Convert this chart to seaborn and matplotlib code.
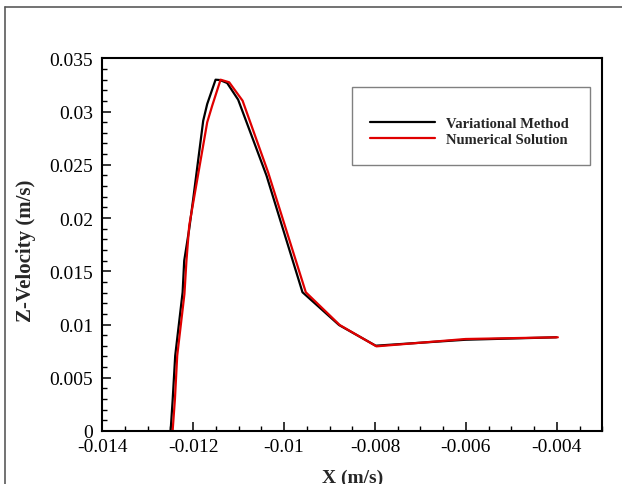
import matplotlib
matplotlib.use("Agg")
import matplotlib.pyplot as plt
from matplotlib.lines import Line2D
from matplotlib.ticker import MultipleLocator
import numpy as np
import pandas as pd
import seaborn as sns

# ---- data ----
var_x = [-0.012497, -0.012453, -0.012396, -0.012233, -0.012198, -0.012088, -0.012000,
         -0.011780, -0.011692, -0.011508, -0.011413, -0.011253, -0.011011, -0.010387,
         -0.009596, -0.008791, -0.007985, -0.006007, -0.004013]
var_y = [0.0000, 0.00285, 0.00707, 0.01303, 0.01599, 0.01897, 0.02179,
         0.02914, 0.03071, 0.03299, 0.03296, 0.03268, 0.03111, 0.02398,
         0.01303, 0.00995, 0.00801, 0.00857, 0.00880]

num_x = [-0.012453, -0.012402, -0.012352, -0.012193, -0.012149, -0.012088,
         -0.011692, -0.011582, -0.011398, -0.011209, -0.010914, -0.010352,
         -0.009523, -0.008776, -0.007969, -0.006007, -0.003978]
num_y = [0.0000, 0.00301, 0.00707, 0.01287, 0.01597, 0.01928,
         0.02899, 0.03055, 0.03299, 0.03275, 0.03102, 0.02429,
         0.01303, 0.00995, 0.00795, 0.00864, 0.00880]

series_names = ["Variational Method", "Numerical Solution"]
series_colors = ["#000000", "#e00000"]

x_ticks = [-0.014, -0.012, -0.010, -0.008, -0.006, -0.004]
x_tick_labels = ["-0.014", "-0.012", "-0.01", "-0.008", "-0.006", "-0.004"]
y_ticks = [0.0, 0.005, 0.010, 0.015, 0.020, 0.025, 0.030, 0.035]
y_tick_labels = ["0", "0.005", "0.01", "0.015", "0.02", "0.025", "0.03", "0.035"]

x_label = "X (m/s)"
y_label = "Z-Velocity (m/s)"

# ---- build table ----
df = pd.concat([
    pd.DataFrame({"x": var_x, "y": var_y, "series": series_names[0]}),
    pd.DataFrame({"x": num_x, "y": num_y, "series": series_names[1]}),
], ignore_index=True)

sns.set_theme(style="ticks")
plt.rcParams["font.family"] = ["Liberation Serif", "DejaVu Serif"]

W, H = 622, 485
fig = plt.figure(figsize=(W / 100, H / 100), dpi=100)
L, R, T, B = 102.3, 602.3, 59.3, 432.0
ax = fig.add_axes([L / W, 1 - B / H, (R - L) / W, (B - T) / H])

sns.lineplot(data=df, x="x", y="y", hue="series", hue_order=series_names,
             palette=dict(zip(series_names, series_colors)), sort=False,
             estimator=None, linewidth=1.6, ax=ax, legend=False)

ax.set_xlim(-0.014, -0.003)
ax.set_ylim(0, 0.035)
ax.set_xticks(x_ticks)
ax.set_xticklabels(x_tick_labels)
ax.set_yticks(y_ticks)
ax.set_yticklabels(y_tick_labels)
ax.xaxis.set_minor_locator(MultipleLocator(0.0005))
ax.yaxis.set_minor_locator(MultipleLocator(0.001))

ax.tick_params(axis="both", which="major", direction="in", length=6.5, width=1.1,
               labelsize=14, color="black", labelcolor="black")
ax.tick_params(axis="both", which="minor", direction="in", length=3.6, width=1.0, color="black")
ax.tick_params(axis="x", which="major", pad=5)
ax.tick_params(axis="y", which="major", pad=6.5)
ax.tick_params(top=False, right=False, which="both")

for s in ax.spines.values():
    s.set_visible(True)
    s.set_color("black")
    s.set_linewidth(1.5)

ax.set_xlabel(x_label, fontsize=14, fontweight="bold", labelpad=10)
ax.set_ylabel(y_label, fontsize=15, fontweight="bold")
ax.yaxis.set_label_coords((36.0 - L) / (R - L), 1 - (251.0 - T) / (B - T))
ax.grid(False)
ax.set_facecolor("white")

handles = [Line2D([], [], color=c, linewidth=1.6) for c in series_colors]
bx0 = (351.7 - L) / (R - L)
bw = (590.0 - 351.7) / (R - L)
btop = 1 - (88.0 - T) / (B - T)
leg = ax.legend(handles, series_names, loc="upper left", mode="expand",
                bbox_to_anchor=(bx0, btop - 0.3, bw, 0.3),
                borderaxespad=0, prop={"family": "Liberation Serif", "weight": "bold", "size": 10.5},
                title=" ", title_fontsize=7.5,
                handlelength=4.45, handletextpad=0.75, borderpad=1.25, labelspacing=0.2,
                frameon=True, fancybox=False, edgecolor="#808080", framealpha=1)
leg.get_frame().set_linewidth(1.0)

# outer frame lines of the screenshot
fig.add_artist(Line2D([5.3 / W, 1], [1 - 8.3 / H, 1 - 8.3 / H], color="#5a5a5a", linewidth=1.2,
                      transform=fig.transFigure))
fig.add_artist(Line2D([5.3 / W, 5.3 / W], [0, 1 - 8.3 / H], color="#5a5a5a", linewidth=1.2,
                      transform=fig.transFigure))

fig.savefig("out.png", dpi=100, facecolor="white")
